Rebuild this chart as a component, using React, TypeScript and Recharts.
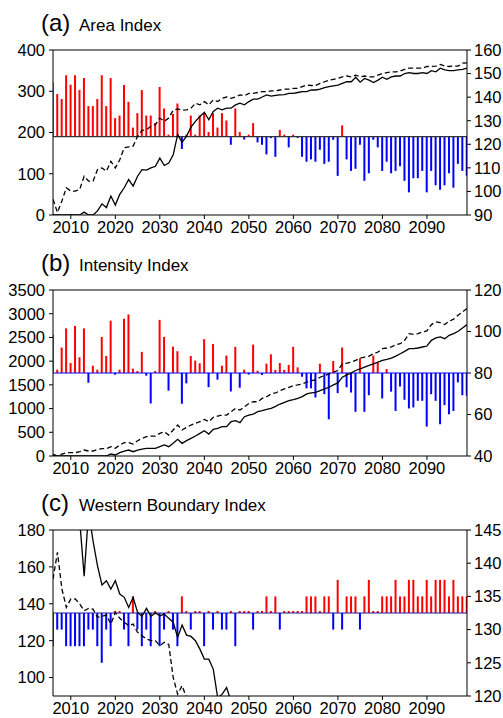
import React from 'react';
import { ComposedChart, Bar, Line, XAxis, YAxis, ReferenceLine, Cell } from 'recharts';

const years = Array.from({ length: 94 }, (_, i) => 2006 + i);
const yearTicks = [2010, 2020, 2030, 2040, 2050, 2060, 2070, 2080, 2090];

// (a) Area Index — bars read on the right axis, lines on the left axis
const areaBars = [
  146.2, 141.3, 139.2, 149.3, 145.3, 149.3, 143.0, 148.1, 136.2, 136.2,
  139.2, 149.3, 136.2, 148.1, 131.1, 132.2, 145.1, 138.0, 127.1, 133.2,
  143.0, 132.2, 132.2, 129.0, 144.3, 135.2, 124.1, 132.9, 137.3, 118.0,
  124.0, 132.2, 124.1, 132.2, 133.2, 125.2, 133.2, 127.1, 133.2, 130.1,
  119.8, 135.2, 125.2, 122.0, 124.1, 129.0, 120.8, 119.8, 115.7, 122.6,
  114.7, 126.1, 124.0, 118.7, 124.0, 122.7, 114.7, 112.6, 113.6, 112.6,
  117.7, 111.7, 112.6, 121.9, 106.6, 128.0, 113.6, 108.7, 109.6, 119.8,
  104.5, 107.7, 121.9, 118.7, 108.7, 112.6, 107.7, 108.7, 110.7, 104.5,
  99.6, 105.6, 105.6, 108.7, 99.6, 108.7, 102.6, 100.7, 102.6, 107.7,
  101.6, 111.7, 108.7, 106.6,
];
const areaSolid = [
  0, 0, 0, 0, 0, 0, 0, 7, 0, 0,
  10, 27, 18, 46, 24, 50, 66, 86, 70, 94,
  110, 109, 114, 118, 138, 120, 126, 146, 195, 176,
  191, 213, 227, 239, 249, 231, 251, 259, 255, 259,
  259, 267, 271, 267, 275, 281, 281, 286, 291, 288,
  290, 291, 292, 295, 295, 297, 299, 299, 303, 303,
  305, 309, 311, 313, 315, 319, 323, 323, 334, 322,
  331, 327, 321, 327, 334, 329, 335, 337, 337, 343,
  345, 343, 343, 345, 343, 350, 347, 356, 352, 350,
  350, 352, 353, 356,
];
const areaDashed = [
  38, 6, 34, 66, 58, 58, 62, 94, 82, 82,
  110, 114, 106, 130, 114, 134, 163, 165, 167, 191,
  205, 207, 215, 219, 235, 227, 235, 254, 257, 254,
  255, 259, 271, 267, 275, 267, 279, 275, 283, 286,
  283, 286, 291, 289, 295, 295, 297, 299, 299, 301,
  301, 303, 305, 305, 307, 307, 311, 315, 314, 314,
  319, 323, 327, 329, 331, 335, 337, 335, 339, 335,
  337, 335, 335, 339, 343, 345, 347, 347, 349, 353,
  356, 356, 356, 356, 360, 360, 361, 365, 361, 360,
  361, 361, 368, 369,
];

// (b) Intensity Index
const intensityBars = [
  98.5, 81.6, 92.3, 101.5, 84.8, 102.7, 87.6, 101.5, 75.3, 83.5,
  81.6, 97.4, 88.2, 105.2, 79.2, 81.6, 106.1, 108.2, 82.1, 80.8,
  90.2, 78.7, 65.3, 80.5, 105.6, 97.4, 71.5, 92.7, 90.5, 65.2,
  75.0, 88.2, 86.0, 84.7, 96.3, 73.2, 94.0, 76.8, 83.5, 88.4,
  71.1, 92.6, 72.9, 81.6, 79.2, 93.7, 81.1, 79.0, 84.5, 89.0,
  81.5, 84.8, 81.5, 83.9, 92.6, 82.7, 78.2, 72.6, 72.6, 68.2,
  84.5, 69.8, 57.7, 85.8, 70.3, 92.3, 73.1, 70.6, 61.3, 87.1,
  61.3, 69.3, 88.4, 85.2, 67.7, 81.9, 71.0, 61.7, 73.5, 67.1,
  62.9, 63.4, 66.6, 66.6, 54.2, 69.8, 66.6, 55.3, 64.5, 60.1,
  61.7, 75.5, 69.3, 69.0,
];
const intensitySolid = [
  21, 0, 0, 0, 0, 0, 0, 0, 0, 0,
  0, 0, 0, 42, 21, 70, 105, 126, 91, 126,
  147, 161, 161, 161, 197, 232, 197, 267, 351, 267,
  323, 372, 421, 477, 534, 463, 562, 583, 618, 618,
  723, 744, 702, 828, 863, 885, 934, 955, 983, 1004,
  1046, 1096, 1131, 1167, 1188, 1216, 1251, 1308, 1329, 1343,
  1379, 1414, 1449, 1499, 1541, 1661, 1711, 1753, 1803, 1838,
  1874, 1909, 1944, 1980, 2015, 2036, 2064, 2107, 2156, 2206,
  2262, 2262, 2277, 2298, 2319, 2439, 2489, 2510, 2474, 2545,
  2581, 2630, 2701, 2771,
];
const intensityDashed = [
  35, 0, 42, 70, 70, 70, 91, 126, 105, 105,
  140, 154, 154, 197, 161, 232, 281, 281, 253, 323,
  372, 407, 421, 421, 477, 512, 442, 548, 653, 548,
  604, 653, 688, 723, 772, 723, 814, 842, 863, 863,
  934, 1004, 969, 1039, 1109, 1144, 1144, 1214, 1250, 1308,
  1329, 1379, 1414, 1449, 1485, 1499, 1520, 1555, 1591, 1605,
  1661, 1697, 1732, 1768, 1803, 1944, 1958, 1980, 2015, 2064,
  2086, 2107, 2156, 2192, 2262, 2277, 2298, 2347, 2368, 2439,
  2581, 2566, 2581, 2616, 2637, 2771, 2828, 2814, 2771, 2842,
  2885, 2969, 3040, 3111,
];

// (c) Western Boundary Index
const westBars = [
  127.5, 130, 130, 127.5, 127.5, 127.5, 127.5, 127.5, 130, 130,
  127.5, 125, 130, 127.5, 132.5, 132.5, 130, 127.5, 135, 130,
  127.5, 130, 127.5, 132.5, 127.5, 130, 132.5, 130, 127.5, 135,
  132.5, 130, 132.5, 132.5, 127.5, 132.5, 130, 132.5, 130, 130,
  132.5, 127.5, 132.5, 132.5, 132.5, 130, 132.5, 132.5, 135, 132.5,
  135, 130, 132.5, 132.5, 132.5, 132.5, 132.5, 135, 135, 135,
  132.5, 135, 135, 130, 137.5, 130, 135, 135, 135, 130,
  135, 137.5, 132.5, 132.5, 135, 135, 135, 137.5, 135, 135,
  137.5, 137.5, 135, 135, 137.5, 135, 137.5, 137.5, 137.5, 135,
  137.5, 135, 135, 135,
];
const westSolid = [
  null, null, null, null, null, null, 185, 155, 190, 174,
  160.6, 150.2, 152.5, 148, 152.5, 145.3, 143.5, 138, 143.5, 135.3,
  133.2, 137.5, 133.2, 135, 133.5, 134.4, 132.1, 130, 121.8, 128.5,
  123, 122.3, 120, 115.4, 110, 110, 104.6, 89, 91, 94.6,
  87, null, null, null, null, null, null, null, null, null,
  null, null, null, null, null, null, null, null, null, null,
  null, null, null, null, null, null, null, null, null, null,
  null, null, null, null, null, null, null, null, null, null,
  null, null, null, null, null, null, null, null, null, null,
  null, null, null, null,
];
const westDashed = [
  153.4, 167.9, 148, 138, 142.6, 142.6, 139.9, 136.2, 137.5, 137.1,
  132.6, 133.2, 133.9, 129, 135.3, 132.1, 130, 128.1, 129, 124.5,
  122.7, 120.9, 120, 120, 117.3, 119.1, 118, 100, 91, 95.6,
  89, null, null, null, null, null, null, null, null, null,
  null, null, null, null, null, null, null, null, null, null,
  null, null, null, null, null, null, null, null, null, null,
  null, null, null, null, null, null, null, null, null, null,
  null, null, null, null, null, null, null, null, null, null,
  null, null, null, null, null, null, null, null, null, null,
  null, null, null, null,
];

const FONT = '"Liberation Sans", Arial, Helvetica, sans-serif';
const RED = '#ff0000';
const BLUE = '#0000ff';
const tickStyle = { fontSize: 16.5, fill: '#000', fontFamily: FONT };

const panels = [
  {
    label: '(a)', title: 'Area Index', bars: areaBars, solid: areaSolid, dashed: areaDashed,
    base: 123.25, baseColor: '#333333',
    leftDomain: [0, 400], leftTicks: [0, 100, 200, 300, 400],
    rightDomain: [90, 160], rightTicks: [90, 100, 110, 120, 130, 140, 150, 160],
    top: 0, axisH: 25,
  },
  {
    label: '(b)', title: 'Intensity Index', bars: intensityBars, solid: intensitySolid, dashed: intensityDashed,
    base: 80, baseColor: BLUE,
    leftDomain: [0, 3500], leftTicks: [0, 500, 1000, 1500, 2000, 2500, 3000, 3500],
    rightDomain: [40, 120], rightTicks: [40, 60, 80, 100, 120],
    top: 240, axisH: 24,
  },
  {
    label: '(c)', title: 'Western Boundary Index', bars: westBars, solid: westSolid, dashed: westDashed,
    base: 132.5, baseColor: '#1a1aa0',
    leftDomain: [90, 180], leftTicks: [100, 120, 140, 160, 180],
    rightDomain: [120, 145], rightTicks: [120, 125, 130, 135, 140, 145],
    top: 480, axisH: 24,
  },
];

function Panel({ p }: { p: (typeof panels)[number] }) {
  const rows = years.map((year, i) => {
    const v = p.bars[i];
    return {
      year,
      bar: [Math.min(p.base, v), Math.max(p.base, v)],
      up: v >= p.base,
      solid: p.solid[i],
      dashed: p.dashed[i],
    };
  });

  return (
    <div style={{ position: 'absolute', left: 0, top: p.top }}>
      <ComposedChart width={503} height={240} data={rows} margin={{ top: 50, right: 0, bottom: 0, left: 8 }}>
        <XAxis
          dataKey="year" type="number" domain={[2006, 2099]} ticks={yearTicks} interval={0}
          allowDataOverflow height={p.axisH} tickSize={4} tickMargin={2}
          stroke="#000" tick={tickStyle}
        />
        <YAxis
          yAxisId="left" domain={p.leftDomain} ticks={p.leftTicks} interval={0} allowDataOverflow
          width={45} tickSize={4} tickMargin={4} stroke="#000" tick={tickStyle}
        />
        <YAxis
          yAxisId="right" orientation="right" domain={p.rightDomain} ticks={p.rightTicks} interval={0}
          width={36} tickSize={4} tickMargin={3} stroke="#000" tick={tickStyle}
        />
        <Bar yAxisId="right" dataKey="bar" barSize={2} minPointSize={2} isAnimationActive={false}>
          {rows.map((r, i) => (
            <Cell key={`c-${i}`} fill={r.up ? RED : BLUE} />
          ))}
        </Bar>
        <ReferenceLine yAxisId="right" y={p.base} stroke={p.baseColor} strokeWidth={1.2} />
        <ReferenceLine yAxisId="left" y={p.leftDomain[1]} stroke="#000" strokeWidth={1} />
        <Line
          yAxisId="left" dataKey="solid" type="linear" stroke="#000" strokeWidth={1.3}
          dot={false} connectNulls={false} isAnimationActive={false}
        />
        <Line
          yAxisId="left" dataKey="dashed" type="linear" stroke="#000" strokeWidth={1.3}
          strokeDasharray="5 3" dot={false} connectNulls={false} isAnimationActive={false}
        />
      </ComposedChart>
    </div>
  );
}

export default function App() {
  return (
    <div style={{ position: 'absolute', left: 0, top: 0, width: 503, height: 718, background: '#fff', fontFamily: FONT }}>
      {panels.map((p) => (
        <Panel key={p.label} p={p} />
      ))}
      <svg width={503} height={718} style={{ position: 'absolute', left: 0, top: 0, pointerEvents: 'none' }}>
        {panels.map((p) => (
          <g key={p.label} fontFamily={FONT} fill="#000">
            <text x={41} y={p.top + 31} fontSize={24}>{p.label}</text>
            <text x={79} y={p.top + 31} fontSize={17}>{p.title}</text>
          </g>
        ))}
      </svg>
    </div>
  );
}
